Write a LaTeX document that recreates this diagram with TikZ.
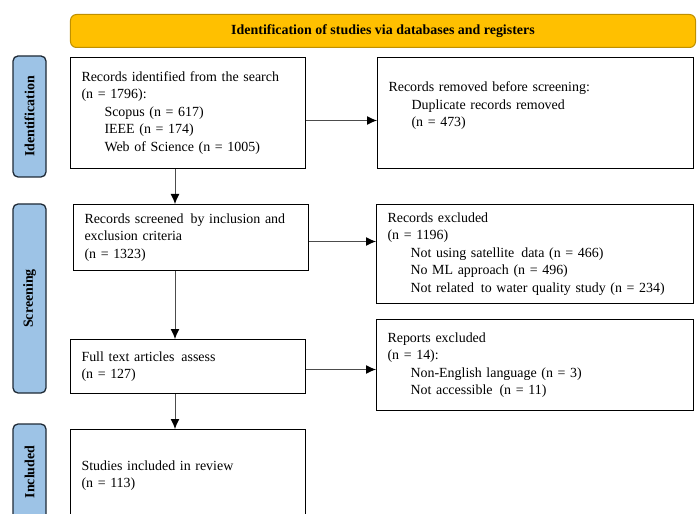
\documentclass[tikz,border=0pt]{standalone}
\usepackage{fontspec}
\setmainfont{Liberation Serif}
\usepackage{tikz}
\usetikzlibrary{positioning,calc,arrows.meta}
\definecolor{bannerfill}{HTML}{FFC000}
\definecolor{bannerline}{HTML}{BF9000}
\definecolor{stagefill}{HTML}{9DC3E6}
\definecolor{stageline}{HTML}{1F2A36}
\tikzstyle{prisma}=[
  x=1bp,y=-1bp,font=\fontsize{14}{17.5}\selectfont
]
\tikzstyle{banner}=[
  draw=bannerline,fill=bannerfill,rounded corners=6bp,line width=1bp,
  minimum width=625bp,minimum height=33bp,font=\bfseries\fontsize{14}{16}\selectfont
]
\tikzstyle{stage}=[
  draw=stageline,fill=stagefill,rounded corners=5bp,line width=1.3bp,
  rotate=90,minimum height=33bp,font=\bfseries\fontsize{14}{16}\selectfont
]
\tikzstyle{recbox}=[
  draw,line width=1bp,anchor=north west,align=left,inner xsep=11bp,inner ysep=0pt
]
\tikzstyle{arr}=[
  draw=gray!60!black,line width=1bp,-{Latex[black,length=10bp,width=9bp]}
]

\begin{document}
\begin{tikzpicture}[prisma]
    \useasboundingbox (0,0) rectangle (699,514);
    \clip (0,0) rectangle (699,514);
    \def\ind{\hspace*{23bp}}
    \node (head) at (383,31) [banner] {Identification of studies via databases and registers};
    % phases on the left
    \node (sid) at (29.5,116.5) [stage,minimum width=121bp] {Identification};
    \node (sscr) at (29.5,298.5) [stage,minimum width=189bp] {Screening};
    \node (sinc) at (29.5,472) [stage,minimum width=96bp] {Included};
    % main column
    \node (found) at (70,57) [recbox,minimum width=235bp,text width=213bp,minimum height=111bp]
      {Records identified from the search\\(n = 1796):\\\ind Scopus (n = 617)\\\ind IEEE (n = 174)\\\ind Web of Science (n = 1005)};
    \node (screen) at (73,204) [recbox,minimum width=235bp,text width=213bp,minimum height=66bp]
      {Records screened\, by inclusion and\\exclusion criteria\\(n = 1323)};
    \node (full) at (70,339) [recbox,minimum width=235bp,text width=213bp,minimum height=54bp]
      {Full text articles\, assess\\(n = 127)};
    \node (incl) at (70,429) [recbox,minimum width=235bp,text width=213bp,minimum height=92bp]
      {Studies included in review\\(n = 113)};
    % side column
    \node (removed) at (377,57) [recbox,minimum width=316bp,text width=294bp,minimum height=111bp]
      {Records removed before screening:\\\ind Duplicate records removed\\\ind (n = 473)\\\mbox{}};
    \node (excl) at (376,204) [recbox,minimum width=317bp,text width=295bp,minimum height=99bp]
      {Records excluded\\(n = 1196)\\\ind Not using satellite\, data (n = 466)\\\ind No ML approach (n = 496)\\\ind Not related\, to water quality study (n = 234)};
    \node (rep) at (376,319) [recbox,minimum width=317bp,text width=295bp,minimum height=91bp]
      {Reports excluded\\(n = 14):\\\ind Non-English language (n = 3)\\\ind Not accessible\, (n = 11)};
    \coordinate (col) at (175,0);
    \draw [arr] (found.south -| col) -- (screen.north -| col);
    \draw [arr] (screen.south -| col) -- (full.north -| col);
    \draw [arr] (full.south -| col) -- (incl.north -| col);
    \draw [arr] ([yshift=-7.5bp]found.east) -- ([yshift=-7.5bp]found.east -| removed.west);
    \draw [arr] ([yshift=-4bp]screen.east) -- ([yshift=-4bp]screen.east -| excl.west);
    \draw [arr] ([yshift=-3bp]full.east) -- ([yshift=-3bp]full.east -| rep.west);
\end{tikzpicture}
\end{document}
